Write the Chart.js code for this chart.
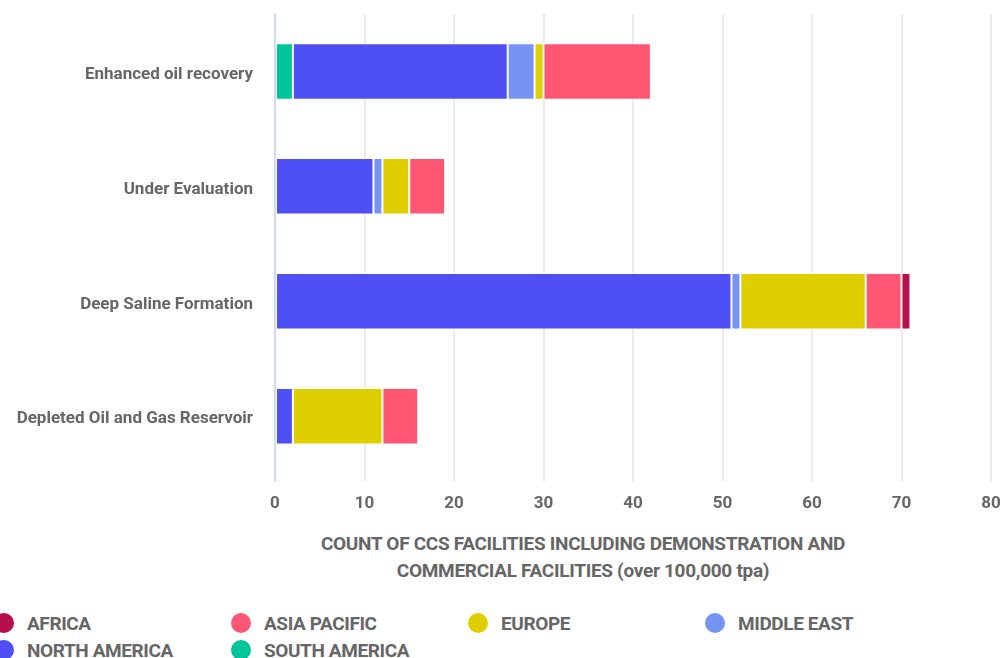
<!DOCTYPE html>
<html>
<head>
<meta charset="utf-8">
<script src="https://cdn.jsdelivr.net/npm/chart.js@4/dist/chart.umd.min.js"></script>
<style>
  body { margin: 0; background: #fff; width: 1002px; height: 658px; overflow: hidden; position: relative; font-family: Roboto, "Liberation Sans", sans-serif; }
  #wrap { position: absolute; left: 0; top: 0; width: 1002px; height: 526px; }
  #axisTitle { position: absolute; top: 530px; left: 583px; transform: translateX(-50%); white-space: nowrap;
    text-align: center; font-weight: 700; font-size: 19px; line-height: 27px; color: #666; letter-spacing: -0.3px; }
  #legend { position: absolute; top: 612px; left: -6px; width: 1100px; }
  .item { position: absolute; height: 22px; display: flex; align-items: center; font-weight: 700; font-size: 19px;
    color: #666; letter-spacing: -0.4px; white-space: nowrap; }
  .dot { width: 20px; height: 20px; border-radius: 50%; margin-right: 13px; flex: none; }
</style>
</head>
<body>
<div id="wrap"><canvas id="chart"></canvas></div>
<div id="axisTitle">COUNT OF CCS FACILITIES INCLUDING DEMONSTRATION AND<br>COMMERCIAL FACILITIES (over 100,000 tpa)</div>
<div id="legend"></div>
<script>
// storage types
const categories = ['Enhanced oil recovery', 'Under Evaluation', 'Deep Saline Formation', 'Depleted Oil and Gas Reservoir'];

// facilities per region, same order as categories
const southAmerica = [2, 0, 0, 0];
const northAmerica = [24, 11, 51, 2];
const middleEast = [3, 1, 1, 0];
const europe = [1, 3, 14, 10];
const asiaPacific = [12, 4, 4, 4];
const africa = [0, 0, 1, 0];

const xTicks = [0, 10, 20, 30, 40, 50, 60, 70, 80];

// stacking goes left to right in this order
const series = [
  { label: 'SOUTH AMERICA', data: southAmerica, color: '#00c49a' },
  { label: 'NORTH AMERICA', data: northAmerica, color: '#4e4ff4' },
  { label: 'MIDDLE EAST', data: middleEast, color: '#7594f4' },
  { label: 'EUROPE', data: europe, color: '#e0cf00' },
  { label: 'ASIA PACIFIC', data: asiaPacific, color: '#ff5674' },
  { label: 'AFRICA', data: africa, color: '#b5104b' }
];

const chart = new Chart(document.getElementById('chart'), {
  type: 'bar',
  data: {
    labels: categories,
    datasets: series.map(s => ({
      label: s.label,
      data: s.data,
      backgroundColor: s.color,
      borderColor: '#ffffff',
      borderWidth: 1,
      borderSkipped: false,
      barPercentage: 0.6,
      categoryPercentage: 0.82
    }))
  },
  options: {
    indexAxis: 'y',
    responsive: true,
    maintainAspectRatio: false,
    animation: false,
    layout: { padding: { top: 14, left: 0, right: 0, bottom: 0 } },
    plugins: {
      legend: { display: false },
      tooltip: { enabled: false }
    },
    scales: {
      x: {
        stacked: true,
        min: 0,
        max: 80,
        afterBuildTicks: scale => { scale.ticks = xTicks.map(v => ({ value: v })); },
        // let the last grid line sit close to the right edge
        afterFit: scale => { scale.paddingRight = 11; },
        grid: {
          color: ctx => ctx.tick && ctx.tick.value === 0 ? '#cfdcf0' : '#ebebeb',
          lineWidth: 2,
          tickLength: 8,
          drawTicks: true
        },
        border: { display: false },
        ticks: {
          padding: 12,
          color: '#666',
          font: { family: 'Roboto', weight: 'bold', size: 17 }
        }
      },
      y: {
        stacked: true,
        afterFit: scale => {
          scale.width = 275;
          scale.paddingTop = 0;
          scale.paddingBottom = 0;
        },
        grid: { display: false, drawTicks: false },
        border: { display: true, color: '#cfdcf0', width: 2 },
        ticks: {
          padding: 22,
          labelOffset: 3,
          color: '#666',
          font: { family: 'Roboto', weight: 'bold', size: 17 }
        }
      }
    }
  }
});

// html legend, alphabetical (reverse of stacking), fixed columns
const legendEl = document.getElementById('legend');
const items = chart.data.datasets.slice().reverse();
items.forEach((ds, i) => {
  const col = i % 4, row = Math.floor(i / 4);
  const el = document.createElement('div');
  el.className = 'item';
  el.style.left = (col * 237) + 'px';
  el.style.top = (row * 27) + 'px';
  el.innerHTML = '<span class="dot" style="background:' + ds.backgroundColor + '"></span>' + ds.label;
  legendEl.appendChild(el);
});
</script>
</body>
</html>
